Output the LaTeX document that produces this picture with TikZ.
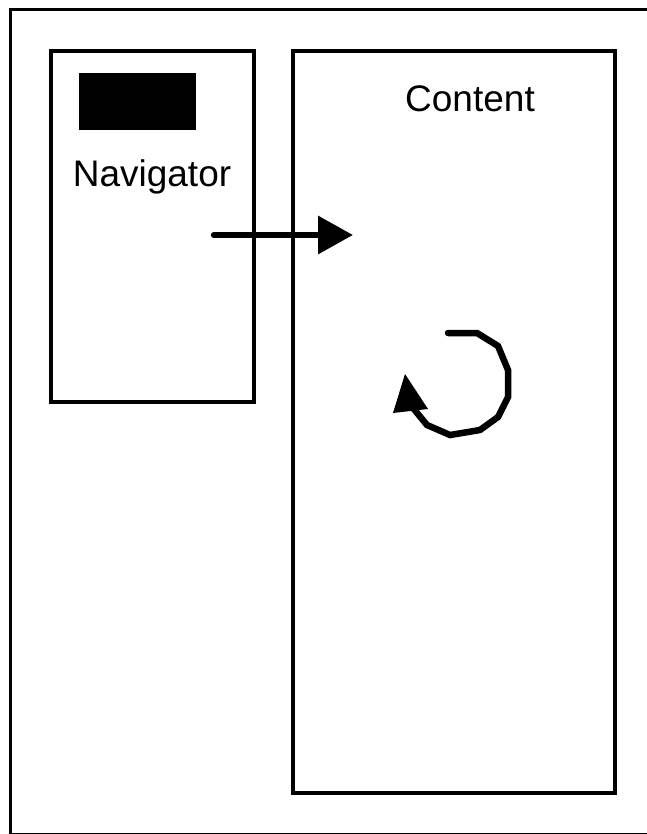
\documentclass[tikz,border=0pt]{standalone}
\usepackage{fontspec}
\setmainfont{Liberation Sans}
\usetikzlibrary{arrows.meta}
\begin{document}
\begin{tikzpicture}[x=1pt,y=-1pt,
  frame/.style={draw=black,line width=3pt},
  box/.style={draw=black,line width=3.5pt},
  label/.style={font=\fontsize{37}{42}\selectfont,inner sep=0pt,anchor=base},
  flow/.style={line width=6.5pt,line cap=round,-{Triangle[length=35pt,width=37pt]}},
  loop/.style={line width=6.5pt,line cap=round,line join=miter}]
\useasboundingbox (0,0) rectangle (646,834);
\draw[frame] (10,10) rectangle (700,834.5);
\draw[box] (51,51) coordinate (navnw) rectangle (254,402) coordinate (navse);
\draw[box] (293,51) coordinate (connw) rectangle (615,793) coordinate (conse);
\fill[black] (79,73) rectangle (196,130);
\node[label] (navlabel) at (152,187) {Navigator};
\node[label] (conlabel) at (470,112) {Content};
\coordinate (arrstart) at (214,235);
\coordinate (arrend) at (353,235);
\draw[flow] (arrstart) -- (arrend);
\draw[loop] (448,333) -- (477,333) -- (498,346) -- (508,370) -- (508,397) -- (498,417) -- (480,430) -- (450,435) -- (427,425) -- (413,408);
\fill[black] (405,374) -- (428,409) -- (393,413) -- cycle;
\end{tikzpicture}
\end{document}
